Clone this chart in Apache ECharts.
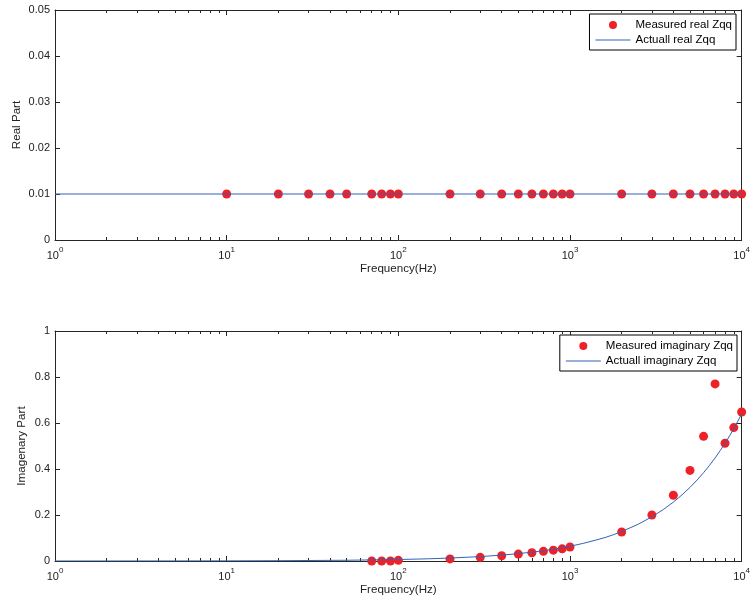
<!DOCTYPE html>
<html>
<head>
<meta charset="utf-8">
<script src="https://cdn.jsdelivr.net/npm/echarts@6/dist/echarts.min.js"></script>
<style>
html,body{margin:0;padding:0;background:#fff;}
#chart{width:753px;height:603px;}
</style>
</head>
<body>
<div id="chart"></div>
<script>
// ---------- data ----------
var realFreq = [10, 20, 30, 40, 50, 70, 80, 90, 100, 200, 300, 400, 500, 600, 700, 800, 900, 1000,
                2000, 3000, 4000, 5000, 6000, 7000, 8000, 9000, 10000];
var realMeasured = [0.01, 0.01, 0.01, 0.01, 0.01, 0.01, 0.01, 0.01, 0.01, 0.01, 0.01, 0.01, 0.01, 0.01,
                    0.01, 0.01, 0.01, 0.01, 0.01, 0.01, 0.01, 0.01, 0.01, 0.01, 0.01, 0.01, 0.01];
var realActualFreq = [1, 10000];
var realActual = [0.01, 0.01];

var imagFreq = [70, 80, 90, 100, 200, 300, 400, 500, 600, 700, 800, 900, 1000,
                2000, 3000, 4000, 5000, 6000, 7000, 8000, 9000, 10000];
var imagMeasured = [0.0, 0.0, 0.0, 0.003, 0.009, 0.016, 0.023, 0.030, 0.036, 0.042, 0.047, 0.053, 0.061,
                    0.126, 0.200, 0.286, 0.394, 0.542, 0.770, 0.512, 0.580, 0.648];
var imagActualFreq = [1, 2, 5, 10, 20, 50, 100, 150, 200, 300, 400, 500, 600, 700, 800, 900, 1000,
                      1200, 1400, 1600, 1800, 2000, 2500, 3000, 3500, 4000, 4500, 5000, 5500, 6000,
                      6500, 7000, 7500, 8000, 8500, 9000, 9500, 10000];
var imagActual = [0.0001, 0.0001, 0.0003, 0.0006, 0.0013, 0.0032, 0.0064, 0.0096, 0.0128, 0.0192, 0.0256,
                  0.032, 0.0384, 0.0448, 0.0512, 0.0576, 0.064, 0.077, 0.090, 0.102, 0.115, 0.128, 0.160,
                  0.192, 0.224, 0.256, 0.288, 0.320, 0.352, 0.384, 0.416, 0.448, 0.480, 0.512, 0.544,
                  0.576, 0.608, 0.640];

var majorTicks = [1, 10, 100, 1000, 10000];
var minorTicks = [2, 3, 4, 5, 6, 7, 8, 9, 20, 30, 40, 50, 60, 70, 80, 90,
                  200, 300, 400, 500, 600, 700, 800, 900, 2000, 3000, 4000, 5000, 6000, 7000, 8000, 9000];

var legendNames = ['Measured real Zqq', 'Actuall real Zqq', 'Measured imaginary Zqq', 'Actuall imaginary Zqq'];
var xName = 'Frequency(Hz)';
var yNames = ['Real Part', 'Imagenary Part'];

// ---------- helpers ----------
function zip(a, b) { return a.map(function (v, i) { return [v, b[i]]; }); }
var FONT = 'Liberation Sans, Arial, sans-serif';
var AX = '#262626';
var RED = '#ED2128';
var BLUE = '#3263B5';
var LINE_ICON = 'path://M0,0 L35,0 L35,1 L0,1 Z';

function xAxes(gi) {
  var base = { type: 'log', logBase: 10, min: 1, max: 10000, gridIndex: gi, splitLine: { show: false } };
  return [
    Object.assign({}, base, {
      position: 'bottom',
      axisLine: { show: true, lineStyle: { color: AX, width: 1 } },
      axisTick: { show: true, inside: true, length: 5, lineStyle: { color: AX }, customValues: majorTicks },
      axisLabel: {
        show: true, margin: 6, customValues: majorTicks,
        formatter: function (v) { return '{b|10}{s|' + Math.round(Math.log(v) / Math.LN10) + '}'; },
        rich: {
          b: { fontFamily: FONT, fontSize: 11, color: '#222', verticalAlign: 'bottom' },
          s: { fontFamily: FONT, fontSize: 8, color: '#222', padding: [0, 0, 7, 0], verticalAlign: 'bottom' }
        }
      },
      name: xName, nameLocation: 'middle', nameGap: 23,
      nameTextStyle: { fontFamily: FONT, fontSize: 11.6, color: '#222' }
    }),
    Object.assign({}, base, {
      position: 'bottom',
      axisLine: { show: false },
      axisTick: { show: true, inside: true, length: 3, lineStyle: { color: AX }, customValues: minorTicks },
      axisLabel: { show: false }
    }),
    Object.assign({}, base, {
      position: 'top',
      axisLine: { show: true, lineStyle: { color: AX, width: 1 } },
      axisTick: { show: true, inside: true, length: 5, lineStyle: { color: AX }, customValues: majorTicks },
      axisLabel: { show: false }
    }),
    Object.assign({}, base, {
      position: 'top',
      axisLine: { show: false },
      axisTick: { show: true, inside: true, length: 3, lineStyle: { color: AX }, customValues: minorTicks },
      axisLabel: { show: false }
    })
  ];
}

function yAxes(gi, max, interval, name, gap) {
  var base = { type: 'value', min: 0, max: max, interval: interval, gridIndex: gi, splitLine: { show: false } };
  return [
    Object.assign({}, base, {
      position: 'left',
      axisLine: { show: true, lineStyle: { color: AX, width: 1 } },
      axisTick: { show: true, inside: true, length: 5, lineStyle: { color: AX } },
      axisLabel: { show: true, margin: 5, fontFamily: FONT, fontSize: 11, color: '#222' },
      name: name, nameLocation: 'middle', nameGap: gap, nameMoveOverlap: false,
      nameTextStyle: { fontFamily: FONT, fontSize: 11.6, color: '#222' }
    }),
    Object.assign({}, base, {
      position: 'right',
      axisLine: { show: true, lineStyle: { color: AX, width: 1 } },
      axisTick: { show: true, inside: true, length: 5, lineStyle: { color: AX } },
      axisLabel: { show: false }
    })
  ];
}

var chart = echarts.init(document.getElementById('chart'), null, { renderer: 'canvas' });

var legendCommon = {
  orient: 'vertical',
  backgroundColor: '#fff',
  borderColor: '#000',
  borderWidth: 1,
  borderRadius: 0,
  itemWidth: 35,
  itemHeight: 8,
  itemGap: 3,
  padding: [5, 4, 4, 6],
  textStyle: { fontFamily: FONT, fontSize: 11.5, color: '#000' },
  selectedMode: false
};

var option = {
  animation: false,
  backgroundColor: '#fff',
  textStyle: { fontFamily: FONT },
  grid: [
    { left: 55, right: 11, top: 10, height: 230 },
    { left: 55, right: 11, top: 331, height: 230 }
  ],
  legend: [
    Object.assign({}, legendCommon, {
      right: 17, top: 14,
      data: [
        { name: legendNames[0], icon: 'circle', itemStyle: { color: RED, opacity: 1 } },
        { name: legendNames[1], icon: LINE_ICON, itemStyle: { color: BLUE, opacity: 1 } }
      ]
    }),
    Object.assign({}, legendCommon, {
      right: 16, top: 335,
      data: [
        { name: legendNames[2], icon: 'circle', itemStyle: { color: RED, opacity: 1 } },
        { name: legendNames[3], icon: LINE_ICON, itemStyle: { color: BLUE, opacity: 1 } }
      ]
    })
  ],
  xAxis: xAxes(0).concat(xAxes(1)),
  yAxis: yAxes(0, 0.05, 0.01, yNames[0], 32).concat(yAxes(1, 1, 0.2, yNames[1], 27)),
  series: [
    {
      name: legendNames[0], type: 'scatter', xAxisIndex: 0, yAxisIndex: 0,
      symbol: 'circle', symbolSize: 9, itemStyle: { color: RED, opacity: 1 }, z: 2,
      data: zip(realFreq, realMeasured)
    },
    {
      name: legendNames[1], type: 'line', xAxisIndex: 0, yAxisIndex: 0,
      symbol: 'none', showSymbol: false, lineStyle: { color: BLUE, width: 1 }, itemStyle: { color: BLUE }, z: 3,
      data: zip(realActualFreq, realActual)
    },
    {
      name: legendNames[2], type: 'scatter', xAxisIndex: 4, yAxisIndex: 2,
      symbol: 'circle', symbolSize: 9, itemStyle: { color: RED, opacity: 1 }, z: 2,
      data: zip(imagFreq, imagMeasured)
    },
    {
      name: legendNames[3], type: 'line', xAxisIndex: 4, yAxisIndex: 2,
      symbol: 'none', showSymbol: false, lineStyle: { color: BLUE, width: 1 }, itemStyle: { color: BLUE }, z: 3,
      data: zip(imagActualFreq, imagActual)
    }
  ]
};
chart.setOption(option);
</script>
</body>
</html>
